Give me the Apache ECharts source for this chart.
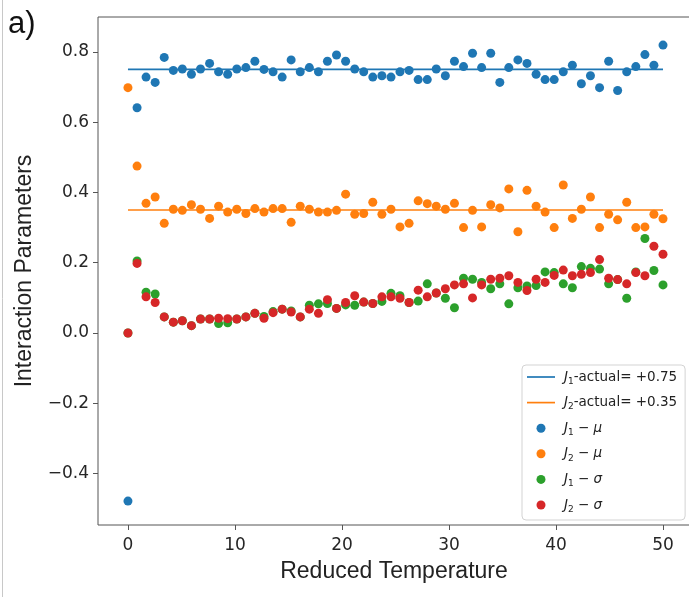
<!DOCTYPE html>
<html>
<head>
<meta charset="utf-8">
<script src="https://cdn.jsdelivr.net/npm/echarts@6/dist/echarts.min.js"></script>
<style>
html,body{margin:0;padding:0;background:#fff;}
#chart{width:689px;height:597px;}
</style>
</head>
<body>
<div id="chart"></div>
<script>
// Reduced temperature values (x)
const temps = [0,0.85,1.69,2.54,3.39,4.24,5.08,5.93,6.78,7.63,8.47,9.32,10.17,11.02,11.86,12.71,13.56,14.41,15.25,16.10,16.95,17.80,18.64,19.49,20.34,21.19,22.03,22.88,23.73,24.58,25.42,26.27,27.12,27.97,28.81,29.66,30.51,31.36,32.20,33.05,33.90,34.75,35.59,36.44,37.29,38.14,38.98,39.83,40.68,41.53,42.37,43.22,44.07,44.92,45.76,46.61,47.46,48.31,49.15,50];
const j1Mu = [-0.478,0.641,0.728,0.713,0.784,0.747,0.751,0.736,0.751,0.767,0.743,0.736,0.751,0.755,0.773,0.750,0.743,0.728,0.777,0.743,0.755,0.743,0.773,0.791,0.773,0.751,0.743,0.728,0.732,0.728,0.743,0.747,0.721,0.721,0.751,0.732,0.773,0.758,0.796,0.755,0.796,0.713,0.755,0.777,0.767,0.736,0.721,0.721,0.743,0.762,0.709,0.732,0.698,0.773,0.690,0.743,0.758,0.792,0.762,0.819];
const j2Mu = [0.698,0.475,0.369,0.387,0.312,0.352,0.349,0.365,0.352,0.326,0.361,0.344,0.352,0.340,0.354,0.344,0.354,0.354,0.315,0.361,0.352,0.344,0.344,0.349,0.395,0.338,0.340,0.372,0.338,0.352,0.302,0.312,0.376,0.368,0.361,0.352,0.369,0.300,0.349,0.302,0.365,0.356,0.410,0.288,0.406,0.361,0.344,0.300,0.421,0.326,0.352,0.387,0.300,0.338,0.322,0.372,0.300,0.302,0.338,0.325];
const j1Sigma = [0.0,0.205,0.116,0.111,0.046,0.031,0.035,0.021,0.040,0.040,0.027,0.029,0.040,0.046,0.056,0.047,0.061,0.068,0.063,0.046,0.079,0.083,0.084,0.070,0.080,0.079,0.088,0.084,0.090,0.113,0.106,0.087,0.091,0.140,0.114,0.099,0.072,0.156,0.153,0.144,0.126,0.140,0.083,0.129,0.134,0.135,0.174,0.172,0.140,0.129,0.189,0.184,0.182,0.140,0.152,0.099,0.174,0.269,0.178,0.137];
const j2Sigma = [0.0,0.198,0.103,0.087,0.046,0.031,0.035,0.021,0.040,0.040,0.042,0.041,0.040,0.046,0.056,0.042,0.058,0.068,0.060,0.046,0.068,0.056,0.095,0.070,0.087,0.106,0.088,0.084,0.103,0.103,0.099,0.087,0.122,0.103,0.114,0.126,0.137,0.140,0.100,0.137,0.153,0.156,0.163,0.144,0.121,0.153,0.144,0.164,0.179,0.163,0.167,0.172,0.209,0.156,0.152,0.140,0.172,0.163,0.247,0.224];
const actualJ1 = 0.75;
const actualJ2 = 0.35;
const actualRange = [0, 50];
const xTicks = [0,10,20,30,40,50];
const yTicks = [-0.4,-0.2,0,0.2,0.4,0.6,0.8];

const pair = (ys) => temps.map((t,i)=>[t, ys[i]]);
const C = ['#1f77b4','#ff7f0e','#2ca02c','#d62728'];
const FONT = 'DejaVu Sans';
const TFONT = 'Liberation Sans';

const legendText = {
  'J1a': '{j|J}{s|1}{n|-actual= +0.75}',
  'J2a': '{j|J}{s|2}{n|-actual= +0.35}',
  'J1mu': '{j|J}{s|1}{n| − }{i|μ}',
  'J2mu': '{j|J}{s|2}{n| − }{i|μ}',
  'J1s': '{j|J}{s|1}{n| − }{i|σ}',
  'J2s': '{j|J}{s|2}{n| − }{i|σ}'
};
const lineIcon = 'path://M0,0L28,0L28,1.7L0,1.7Z';

const chart = echarts.init(document.getElementById('chart'), null, {renderer:'canvas'});
chart.setOption({
  animation: false,
  backgroundColor: '#fff',
  grid: {left: 98, top: 17, height: 508, width: 600, outerBoundsMode: 'none', containLabel: false,
    show: true, borderColor: '#555', borderWidth: 1, backgroundColor: 'transparent'},
  xAxis: {
    type: 'value', min: -2.8, max: 53.27,
    splitLine: {show: false},
    axisLine: {show: false, onZero: false},
    axisTick: {show: true, inside: false, length: 5, lineStyle: {color: '#555'}, customValues: xTicks},
    axisLabel: {customValues: xTicks, margin: 12, color: '#262626', fontSize: 17, fontFamily: FONT},
    name: 'Reduced Temperature', nameLocation: 'middle', nameGap: 35,
    nameTextStyle: {fontSize: 23, color: '#222', fontFamily: TFONT, padding: [0, 8, 0, 0]}
  },
  yAxis: {
    type: 'value', min: -0.546, max: 0.899,
    splitLine: {show: false},
    axisLine: {show: false, onZero: false},
    axisTick: {show: true, inside: false, length: 5, lineStyle: {color: '#555'}, customValues: yTicks},
    axisLabel: {customValues: yTicks, margin: 9, color: '#262626', fontSize: 17, fontFamily: FONT,
      formatter: v => v.toFixed(1).replace('-', '−')},
    name: 'Interaction Parameters', nameLocation: 'middle', nameGap: 62, nameRotate: 90,
    nameTextStyle: {fontSize: 23, color: '#222', fontFamily: TFONT}
  },
  legend: {
    left: 522, top: 365, orient: 'vertical',
    backgroundColor: '#fff', borderColor: '#d3d3d3', borderWidth: 1, borderRadius: 4,
    padding: [5, 8, 6, 5], itemWidth: 28, itemHeight: 9, itemGap: 9.6,
    data: [
      {name: 'J1a', icon: lineIcon}, {name: 'J2a', icon: lineIcon},
      {name: 'J1mu', icon: 'circle'}, {name: 'J2mu', icon: 'circle'},
      {name: 'J1s', icon: 'circle'}, {name: 'J2s', icon: 'circle'}
    ],
    formatter: n => legendText[n],
    textStyle: {
      color: '#222', fontFamily: FONT, fontSize: 13.5,
      rich: {
        j: {fontStyle: 'italic', fontSize: 13.5, fontFamily: FONT, lineHeight: 18, color: '#222', padding: [0,0,0,4]},
        i: {fontStyle: 'italic', fontSize: 13.5, fontFamily: FONT, lineHeight: 18, color: '#222'},
        s: {fontSize: 9, fontFamily: FONT, lineHeight: 18, verticalAlign: 'bottom', color: '#222'},
        n: {fontSize: 13.5, fontFamily: FONT, lineHeight: 18, color: '#222'}
      }
    }
  },
  graphic: [
    {type: 'text', left: 8, top: 9, style: {text: 'a)', fontSize: 31, fontFamily: TFONT, fill: '#111'}},
    {type: 'line', shape: {x1: 2.5, y1: 0, x2: 2.5, y2: 597}, style: {stroke: '#c8c8c8', lineWidth: 1}}
  ],
  series: [
    {name: 'J1a', type: 'line', data: actualRange.map(x => [x, actualJ1]), symbol: 'none', z: 5,
      lineStyle: {color: C[0], width: 1.6}, itemStyle: {color: C[0]}},
    {name: 'J2a', type: 'line', data: actualRange.map(x => [x, actualJ2]), symbol: 'none', z: 5,
      lineStyle: {color: C[1], width: 1.6}, itemStyle: {color: C[1]}},
    {name: 'J1mu', type: 'scatter', data: pair(j1Mu), symbolSize: 9, itemStyle: {color: C[0], opacity: 1}},
    {name: 'J2mu', type: 'scatter', data: pair(j2Mu), symbolSize: 9, itemStyle: {color: C[1], opacity: 1}},
    {name: 'J1s', type: 'scatter', data: pair(j1Sigma), symbolSize: 9, itemStyle: {color: C[2], opacity: 1}},
    {name: 'J2s', type: 'scatter', data: pair(j2Sigma), symbolSize: 9, itemStyle: {color: C[3], opacity: 1}}
  ]
});
</script>
</body>
</html>
